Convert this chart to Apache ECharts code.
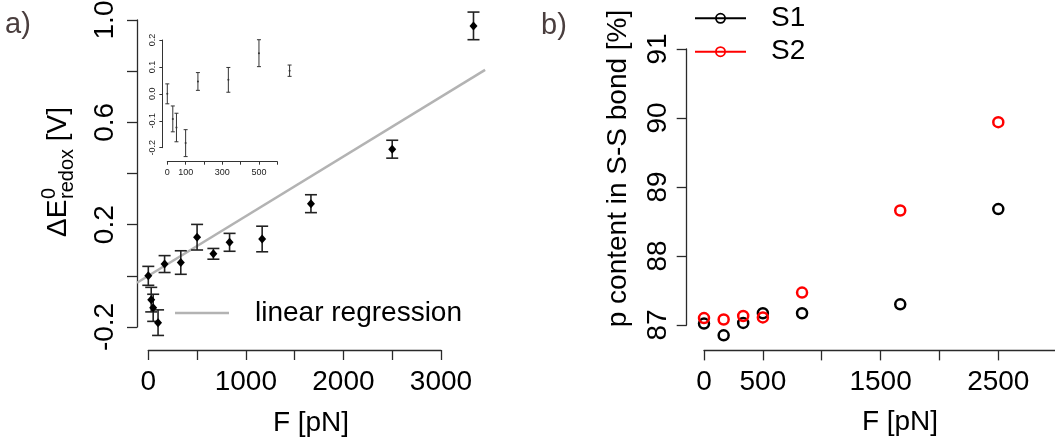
<!DOCTYPE html>
<html><head><meta charset="utf-8">
<script src="https://cdn.jsdelivr.net/npm/echarts@6/dist/echarts.min.js"></script>
<style>html,body{margin:0;padding:0;background:#fff}#c{width:1055px;height:445px}</style>
</head><body><div id="c"></div>
<script>
// ---------------- data: panel a ----------------
const forceA    = [0, 30, 50, 100, 167, 333, 500, 667, 833, 1167, 1667, 2500, 3333];
const deltaE    = [0.000, -0.093, -0.125, -0.183, 0.046, 0.052, 0.151, 0.086, 0.131, 0.144, 0.282, 0.495, 0.977];
const deltaEErr = [0.037, 0.048, 0.053, 0.050, 0.033, 0.046, 0.050, 0.021, 0.035, 0.050, 0.035, 0.035, 0.054];
const insetMaxForce = 700;
// ---------------- data: panel b ----------------
const forceB = [0, 167, 333, 500, 833, 1667, 2500];
const s1 = [87.02, 86.85, 87.03, 87.17, 87.17, 87.30, 88.68];
const s2 = [87.10, 87.08, 87.13, 87.11, 87.47, 88.66, 89.94];
// ---------------- tick labels ----------------
const aYLabels = ['-0.2', '0.2', '0.6', '1.0'];
const aXLabels = ['0', '1000', '2000', '3000'];
const insetYLabels = ['-0.2', '-0.1', '0.0', '0.1', '0.2'];
const insetXLabels = ['0', '100', '300', '500'];
const bYLabels = ['87', '88', '89', '90', '91'];
const bXLabels = ['0', '500', '1500', '2500'];

// ---------------- layout (pixels) ----------------
const FONT = '"Liberation Sans", Arial, Helvetica, sans-serif';
function mk(p) { return { x: v => p.x0 + v * p.xPer, y: v => p.ypx - (v - p.yv) * p.yPer }; }
const SA = mk({ x0: 148.3, xPer: 292.7 / 3000, yv: -0.2, ypx: 327, yPer: 307 / 1.2 });
const SI = mk({ x0: 167.3, xPer: 110 / 600, yv: 0, ypx: 93.85, yPer: 107.7 / 0.4 });
const SB = mk({ x0: 704, xPer: 294.3 / 2500, yv: 87, ypx: 325, yPer: 276 / 4 });
const A_RANGE = { xMin: -116, xMax: 3452, yMin: -0.29, yMax: 1.08 };
const I_RANGE = { xMin: -27, xMax: 693, yMin: -0.252, yMax: 0.217 };
const B_RANGE = { xMin: -147, xMax: 3480, yMin: 86.632, yMax: 91.168 };
const A_TICKS = { xMin: 0, xMax: 3000, xInt: 500, yMin: -0.2, yMax: 1.0, yInt: 0.2 };
const I_TICKS = { xMin: 0, xMax: 600, xInt: 100, yMin: -0.2, yMax: 0.2, yInt: 0.1 };
const B_TICKS = { xMin: 0, xMax: 3000, xInt: 500, yMin: 87, yMax: 91, yInt: 1 };

const grids = [], xAxes = [], yAxes = [];
function addGrid(g) {
  grids.push(Object.assign({ containLabel: false, outerBoundsMode: 'none', show: false }, g));
  return grids.length - 1;
}
function hiddenAxis(gi, min, max) {
  return { gridIndex: gi, type: 'value', min: min, max: max, show: false, axisLine: { onZero: false } };
}
function fmtFactory(labels, dec) {
  return v => { if (Math.abs(v) < 1e-9) v = 0; const s = v.toFixed(dec); return labels.indexOf(s) >= 0 ? s : ''; };
}
function dataGrid(S, r) {
  const gi = addGrid({ left: S.x(r.xMin), top: S.y(r.yMax), width: S.x(r.xMax) - S.x(r.xMin), height: S.y(r.yMin) - S.y(r.yMax) });
  xAxes.push(hiddenAxis(gi, r.xMin, r.xMax));
  yAxes.push(hiddenAxis(gi, r.yMin, r.yMax));
  return xAxes.length - 1;
}
function axisStyle(o) {
  return {
    axisLine: { show: true, onZero: false, lineStyle: { color: o.color, width: o.lw } },
    axisTick: { show: true, inside: false, length: o.tick, lineStyle: { color: o.color, width: o.lw } },
    splitLine: { show: false }
  };
}
function yAxisGrid(S, r, t, labels, dec, o) {
  const gi = addGrid({ left: S.x(r.xMin), top: S.y(t.yMax), width: 20, height: S.y(t.yMin) - S.y(t.yMax) });
  xAxes.push(hiddenAxis(gi, 0, 1));
  yAxes.push(Object.assign({
    gridIndex: gi, type: 'value', min: t.yMin, max: t.yMax, interval: t.yInt,
    axisLabel: { show: true, rotate: 90, margin: o.margin, fontSize: o.fs, fontFamily: FONT, color: o.textColor, formatter: fmtFactory(labels, dec) }
  }, axisStyle(o)));
}
function xAxisGrid(S, r, t, labels, dec, o) {
  const gi = addGrid({ left: S.x(t.xMin), top: S.y(r.yMin) - 20, width: S.x(t.xMax) - S.x(t.xMin), height: 20 });
  yAxes.push(hiddenAxis(gi, 0, 1));
  xAxes.push(Object.assign({
    gridIndex: gi, type: 'value', min: t.xMin, max: t.xMax, interval: t.xInt,
    axisLabel: { show: true, margin: o.margin, fontSize: o.fs, fontFamily: FONT, color: o.textColor, formatter: fmtFactory(labels, dec) }
  }, axisStyle(o)));
}

const mainAxis = { color: '#2a2a2a', lw: 1.3, tick: 10, fs: 28, textColor: '#000' };
const insetAxis = { color: '#333', lw: 1, tick: 3, fs: 9, textColor: '#222' };

const AX = dataGrid(SA, A_RANGE);
yAxisGrid(SA, A_RANGE, A_TICKS, aYLabels, 1, Object.assign({ margin: 18 }, mainAxis));
xAxisGrid(SA, A_RANGE, A_TICKS, aXLabels, 0, Object.assign({ margin: 18 }, mainAxis));
const IX = dataGrid(SI, I_RANGE);
yAxisGrid(SI, I_RANGE, I_TICKS, insetYLabels, 1, Object.assign({ margin: 5 }, insetAxis));
xAxisGrid(SI, I_RANGE, I_TICKS, insetXLabels, 0, Object.assign({ margin: 6 }, insetAxis));
const BX = dataGrid(SB, B_RANGE);
yAxisGrid(SB, B_RANGE, B_TICKS, bYLabels, 0, Object.assign({ margin: 14 }, mainAxis));
xAxisGrid(SB, B_RANGE, B_TICKS, bXLabels, 0, Object.assign({ margin: 18 }, mainAxis));

// regression through origin (least squares)
let sxy = 0, sxx = 0;
forceA.forEach((f, i) => { sxy += f * deltaE[i]; sxx += f * f; });
const slope = sxy / sxx;

function errorBarSeries(ai, data, capHalf, lw, color) {
  return {
    type: 'custom', xAxisIndex: ai, yAxisIndex: ai, data: data, encode: { x: 0, y: [1, 2] }, silent: true, z: 3,
    renderItem: (params, api) => {
      const x = api.value(0), lo = api.value(1), hi = api.value(2);
      const a = api.coord([x, hi]), b = api.coord([x, lo]);
      const st = { stroke: color, lineWidth: lw };
      return { type: 'group', children: [
        { type: 'line', shape: { x1: a[0], y1: a[1], x2: b[0], y2: b[1] }, style: st },
        { type: 'line', shape: { x1: a[0] - capHalf, y1: a[1], x2: a[0] + capHalf, y2: a[1] }, style: st },
        { type: 'line', shape: { x1: b[0] - capHalf, y1: b[1], x2: b[0] + capHalf, y2: b[1] }, style: st }
      ] };
    }
  };
}
const errData = forceA.map((f, i) => [f, deltaE[i] - deltaEErr[i], deltaE[i] + deltaEErr[i]]);
const insetIdx = forceA.map((f, i) => i).filter(i => forceA[i] < insetMaxForce);
const insetErr = insetIdx.map(i => errData[i]);
const insetPts = insetIdx.map(i => [forceA[i], deltaE[i]]);

const series = [
  { name: 'linear regression', type: 'line', xAxisIndex: AX, yAxisIndex: AX, z: 1, silent: true,
    data: [[A_RANGE.xMin, slope * A_RANGE.xMin], [A_RANGE.xMax, slope * A_RANGE.xMax]],
    showSymbol: false, symbol: 'none', color: '#b3b3b3', lineStyle: { color: '#b3b3b3', width: 2.5 } },
  errorBarSeries(AX, errData, 6, 1.6, '#222'),
  { type: 'scatter', xAxisIndex: AX, yAxisIndex: AX, z: 4, silent: true, symbol: 'diamond', symbolSize: [8, 9],
    itemStyle: { color: '#000', opacity: 1 }, data: forceA.map((f, i) => [f, deltaE[i]]) },
  errorBarSeries(IX, insetErr, 2, 1, '#333'),
  { type: 'scatter', xAxisIndex: IX, yAxisIndex: IX, z: 4, silent: true, symbol: 'circle', symbolSize: 2,
    itemStyle: { color: '#333', opacity: 1 }, data: insetPts },
  { name: 'S1', type: 'scatter', xAxisIndex: BX, yAxisIndex: BX, z: 3, silent: true, symbol: 'circle', symbolSize: 10,
    itemStyle: { color: 'rgba(0,0,0,0)', borderColor: '#000', borderWidth: 2.5, opacity: 1 },
    data: forceB.map((f, i) => [f, s1[i]]) },
  { name: 'S2', type: 'scatter', xAxisIndex: BX, yAxisIndex: BX, z: 4, silent: true, symbol: 'circle', symbolSize: 10,
    itemStyle: { color: 'rgba(0,0,0,0)', borderColor: '#ff0000', borderWidth: 2.5, opacity: 1 },
    data: forceB.map((f, i) => [f, s2[i]]) }
];

// legend icon: line with an open circle in the middle (51 x 11)
const lineRingIcon = 'path://M0,4.5 L0,6.5 L51,6.5 L51,4.5 Z ' +
  'M20,5.5 A5.5,5.5 0 1 0 31,5.5 A5.5,5.5 0 1 0 20,5.5 Z ' +
  'M21.8,5.5 A3.7,3.7 0 1 1 29.2,5.5 A3.7,3.7 0 1 1 21.8,5.5 Z';

const txt = (text, x, y, fs, extra) => ({
  type: 'text', x: x, y: y, silent: true,
  style: Object.assign({ text: text, fontSize: fs, fontFamily: FONT, fill: '#000', align: 'center', verticalAlign: 'middle',
    textAlign: 'center', textVerticalAlign: 'middle' }, extra || {})
});
const lt = { align: 'left', textAlign: 'left' };

const graphic = [
  txt('a)', 5, 25, 29, Object.assign({ fill: '#4a3e3e' }, lt)),
  txt('b)', 541, 26, 29, Object.assign({ fill: '#4a3e3e' }, lt)),
  txt('F [pN]', 311, 423, 28),
  txt('F [pN]', 900, 422, 28),
  Object.assign(txt('p content in S-S bond [%]', 618, 168.5, 28), { rotation: Math.PI / 2 }),
  { type: 'group', x: 68, y: 237, rotation: Math.PI / 2, silent: true, children: [
    txt('ΔE', 0, -9.8, 28, lt),
    txt('0', 38, -19, 20, lt),
    txt('redox', 38, -1, 20, lt),
    txt(' [V]', 88, -9.8, 28, lt)
  ] }
];

const chart = echarts.init(document.getElementById('c'));
chart.setOption({
  animation: false,
  backgroundColor: '#fff',
  grid: grids, xAxis: xAxes, yAxis: yAxes,
  legend: [
    { data: [{ name: 'linear regression', icon: 'rect', itemStyle: { opacity: 1 } }], left: 175, top: 299, padding: 0, orient: 'horizontal',
      itemWidth: 54, itemHeight: 2.5, selectedMode: false,
      textStyle: { fontSize: 28, fontFamily: FONT, color: '#000', lineHeight: 28, padding: [0, 0, 0, 21] } },
    { data: [
        { name: 'S1', icon: lineRingIcon, itemStyle: { color: '#000', borderWidth: 0, opacity: 1 } },
        { name: 'S2', icon: lineRingIcon, itemStyle: { color: '#ff0000', borderWidth: 0, opacity: 1 } }
      ],
      left: 695, top: 4.3, padding: 0, orient: 'vertical', itemWidth: 51, itemHeight: 11, itemGap: 5.4,
      selectedMode: false,
      textStyle: { fontSize: 28, fontFamily: FONT, color: '#000', lineHeight: 28, padding: [0, 0, 0, 20] } }
  ],
  series: series,
  graphic: graphic
});
</script></body></html>
